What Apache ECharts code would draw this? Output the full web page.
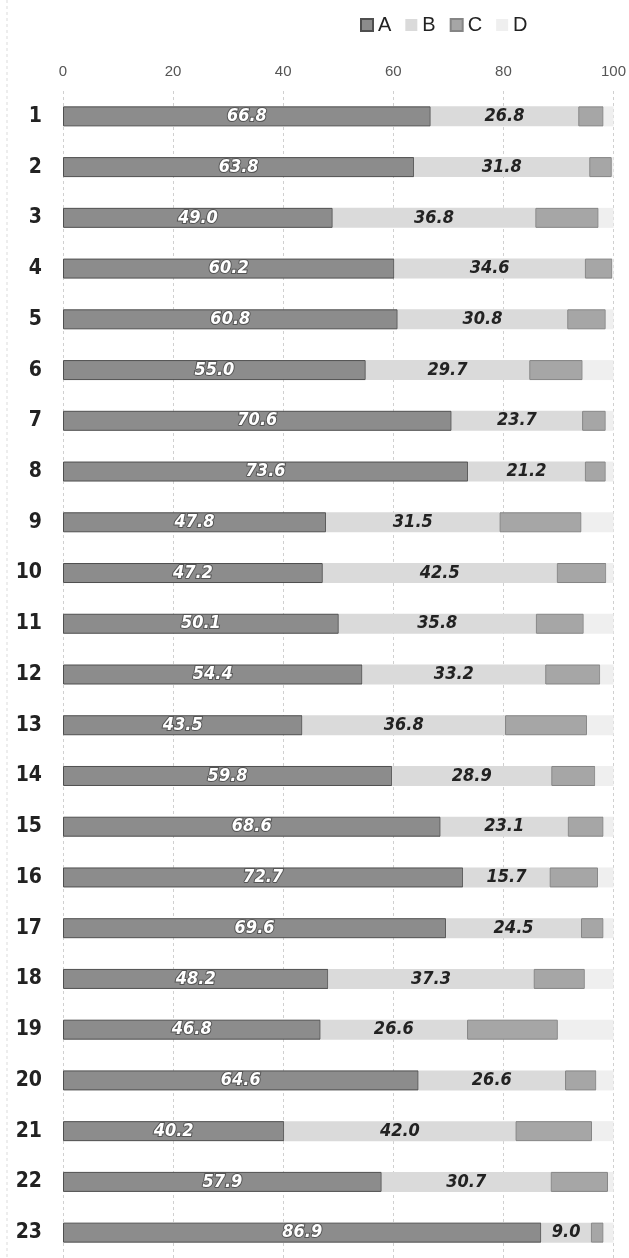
<!DOCTYPE html>
<html>
<head>
<meta charset="utf-8">
<script src="https://cdn.jsdelivr.net/npm/echarts@6/dist/echarts.min.js"></script>
<style>
  html, body { margin: 0; padding: 0; background: #fff; }
  #chart { width: 629px; height: 1258px; }
</style>
</head>
<body>
<div id="chart"></div>
<script>
var categories = ["1", "2", "3", "4", "5", "6", "7", "8", "9", "10", "11", "12",
  "13", "14", "15", "16", "17", "18", "19", "20", "21", "22", "23"];

var seriesA = [66.8, 63.8, 49.0, 60.2, 60.8, 55.0, 70.6, 73.6, 47.8, 47.2, 50.1, 54.4,
  43.5, 59.8, 68.6, 72.7, 69.6, 48.2, 46.8, 64.6, 40.2, 57.9, 86.9];
var seriesB = [26.8, 31.8, 36.8, 34.6, 30.8, 29.7, 23.7, 21.2, 31.5, 42.5, 35.8, 33.2,
  36.8, 28.9, 23.1, 15.7, 24.5, 37.3, 26.6, 26.6, 42.0, 30.7, 9.0];
var seriesC = [4.6, 4.1, 11.5, 5.0, 7.0, 9.7, 4.3, 3.8, 14.9, 9.0, 8.7, 10.0,
  14.9, 8.0, 6.5, 8.8, 4.1, 9.3, 16.5, 5.7, 13.9, 10.4, 2.3];
var seriesD = [1.8, 0.3, 2.7, 0.2, 1.4, 5.6, 1.4, 1.4, 5.8, 1.3, 5.4, 2.4,
  4.8, 3.3, 1.8, 2.8, 1.8, 5.2, 10.1, 3.1, 3.9, 1.0, 1.8];

var xTicks = [0, 20, 40, 60, 80, 100];

var labelFont = "'DejaVu Sans Condensed', 'DejaVu Sans', sans-serif";

var chart = echarts.init(document.getElementById("chart"));

var option = {
  animation: false,
  backgroundColor: "#fff",
  // faint dashed frame line on the left edge
  graphic: [{
    type: "line",
    shape: { x1: 7, y1: 0, x2: 7, y2: 1258 },
    style: { stroke: "#dcdcdc", lineWidth: 1, lineDash: [3, 3] }
  }],
  legend: {
    top: 10,
    left: 355,
    itemWidth: 12,
    itemHeight: 12,
    itemGap: 14,
    icon: "rect",
    textStyle: { fontSize: 20, color: "#222", fontFamily: "'Liberation Sans', Arial, sans-serif" },
    data: ["A", "B", "C", "D"]
  },
  grid: {
    left: 63,
    right: 15,
    top: 91,
    height: 1180
  },
  xAxis: {
    type: "value",
    position: "top",
    min: xTicks[0],
    max: xTicks[xTicks.length - 1],
    interval: 20,
    axisLine: { show: false },
    axisTick: { show: false },
    axisLabel: {
      margin: 12,
      color: "#555",
      fontSize: 15,
      fontFamily: "'Liberation Sans', Arial, sans-serif"
    },
    splitLine: {
      show: true,
      lineStyle: { color: "#d0d0d0", type: [3, 3], width: 1 }
    }
  },
  yAxis: {
    type: "category",
    inverse: true,
    data: categories,
    axisLine: { show: false },
    axisTick: { show: false },
    axisLabel: {
      margin: 21,
      color: "#222",
      fontSize: 21,
      fontWeight: "bold",
      fontFamily: labelFont
    }
  },
  series: [
    {
      name: "A",
      type: "bar",
      stack: "total",
      barWidth: 20,
      data: seriesA,
      itemStyle: { color: "#8c8c8c", borderColor: "#4f4f4f", borderWidth: 1 },
      label: {
        show: true,
        position: "inside",
        color: "#fff",
        fontSize: 18,
        fontWeight: "bold",
        fontStyle: "italic",
        fontFamily: labelFont,
        textBorderColor: "#555",
        textBorderWidth: 2,
        formatter: function (p) { return p.value.toFixed(1); }
      }
    },
    {
      name: "B",
      type: "bar",
      stack: "total",
      data: seriesB,
      itemStyle: { color: "#dadada" },
      label: {
        show: true,
        position: "inside",
        color: "#222",
        fontSize: 18,
        fontWeight: "bold",
        fontStyle: "italic",
        fontFamily: labelFont,
        formatter: function (p) { return p.value.toFixed(1); }
      }
    },
    {
      name: "C",
      type: "bar",
      stack: "total",
      data: seriesC,
      itemStyle: { color: "#a6a6a6", borderColor: "#858585", borderWidth: 1 }
    },
    {
      name: "D",
      type: "bar",
      stack: "total",
      data: seriesD,
      itemStyle: { color: "#efefef" }
    }
  ]
};

chart.setOption(option);
</script>
</body>
</html>
